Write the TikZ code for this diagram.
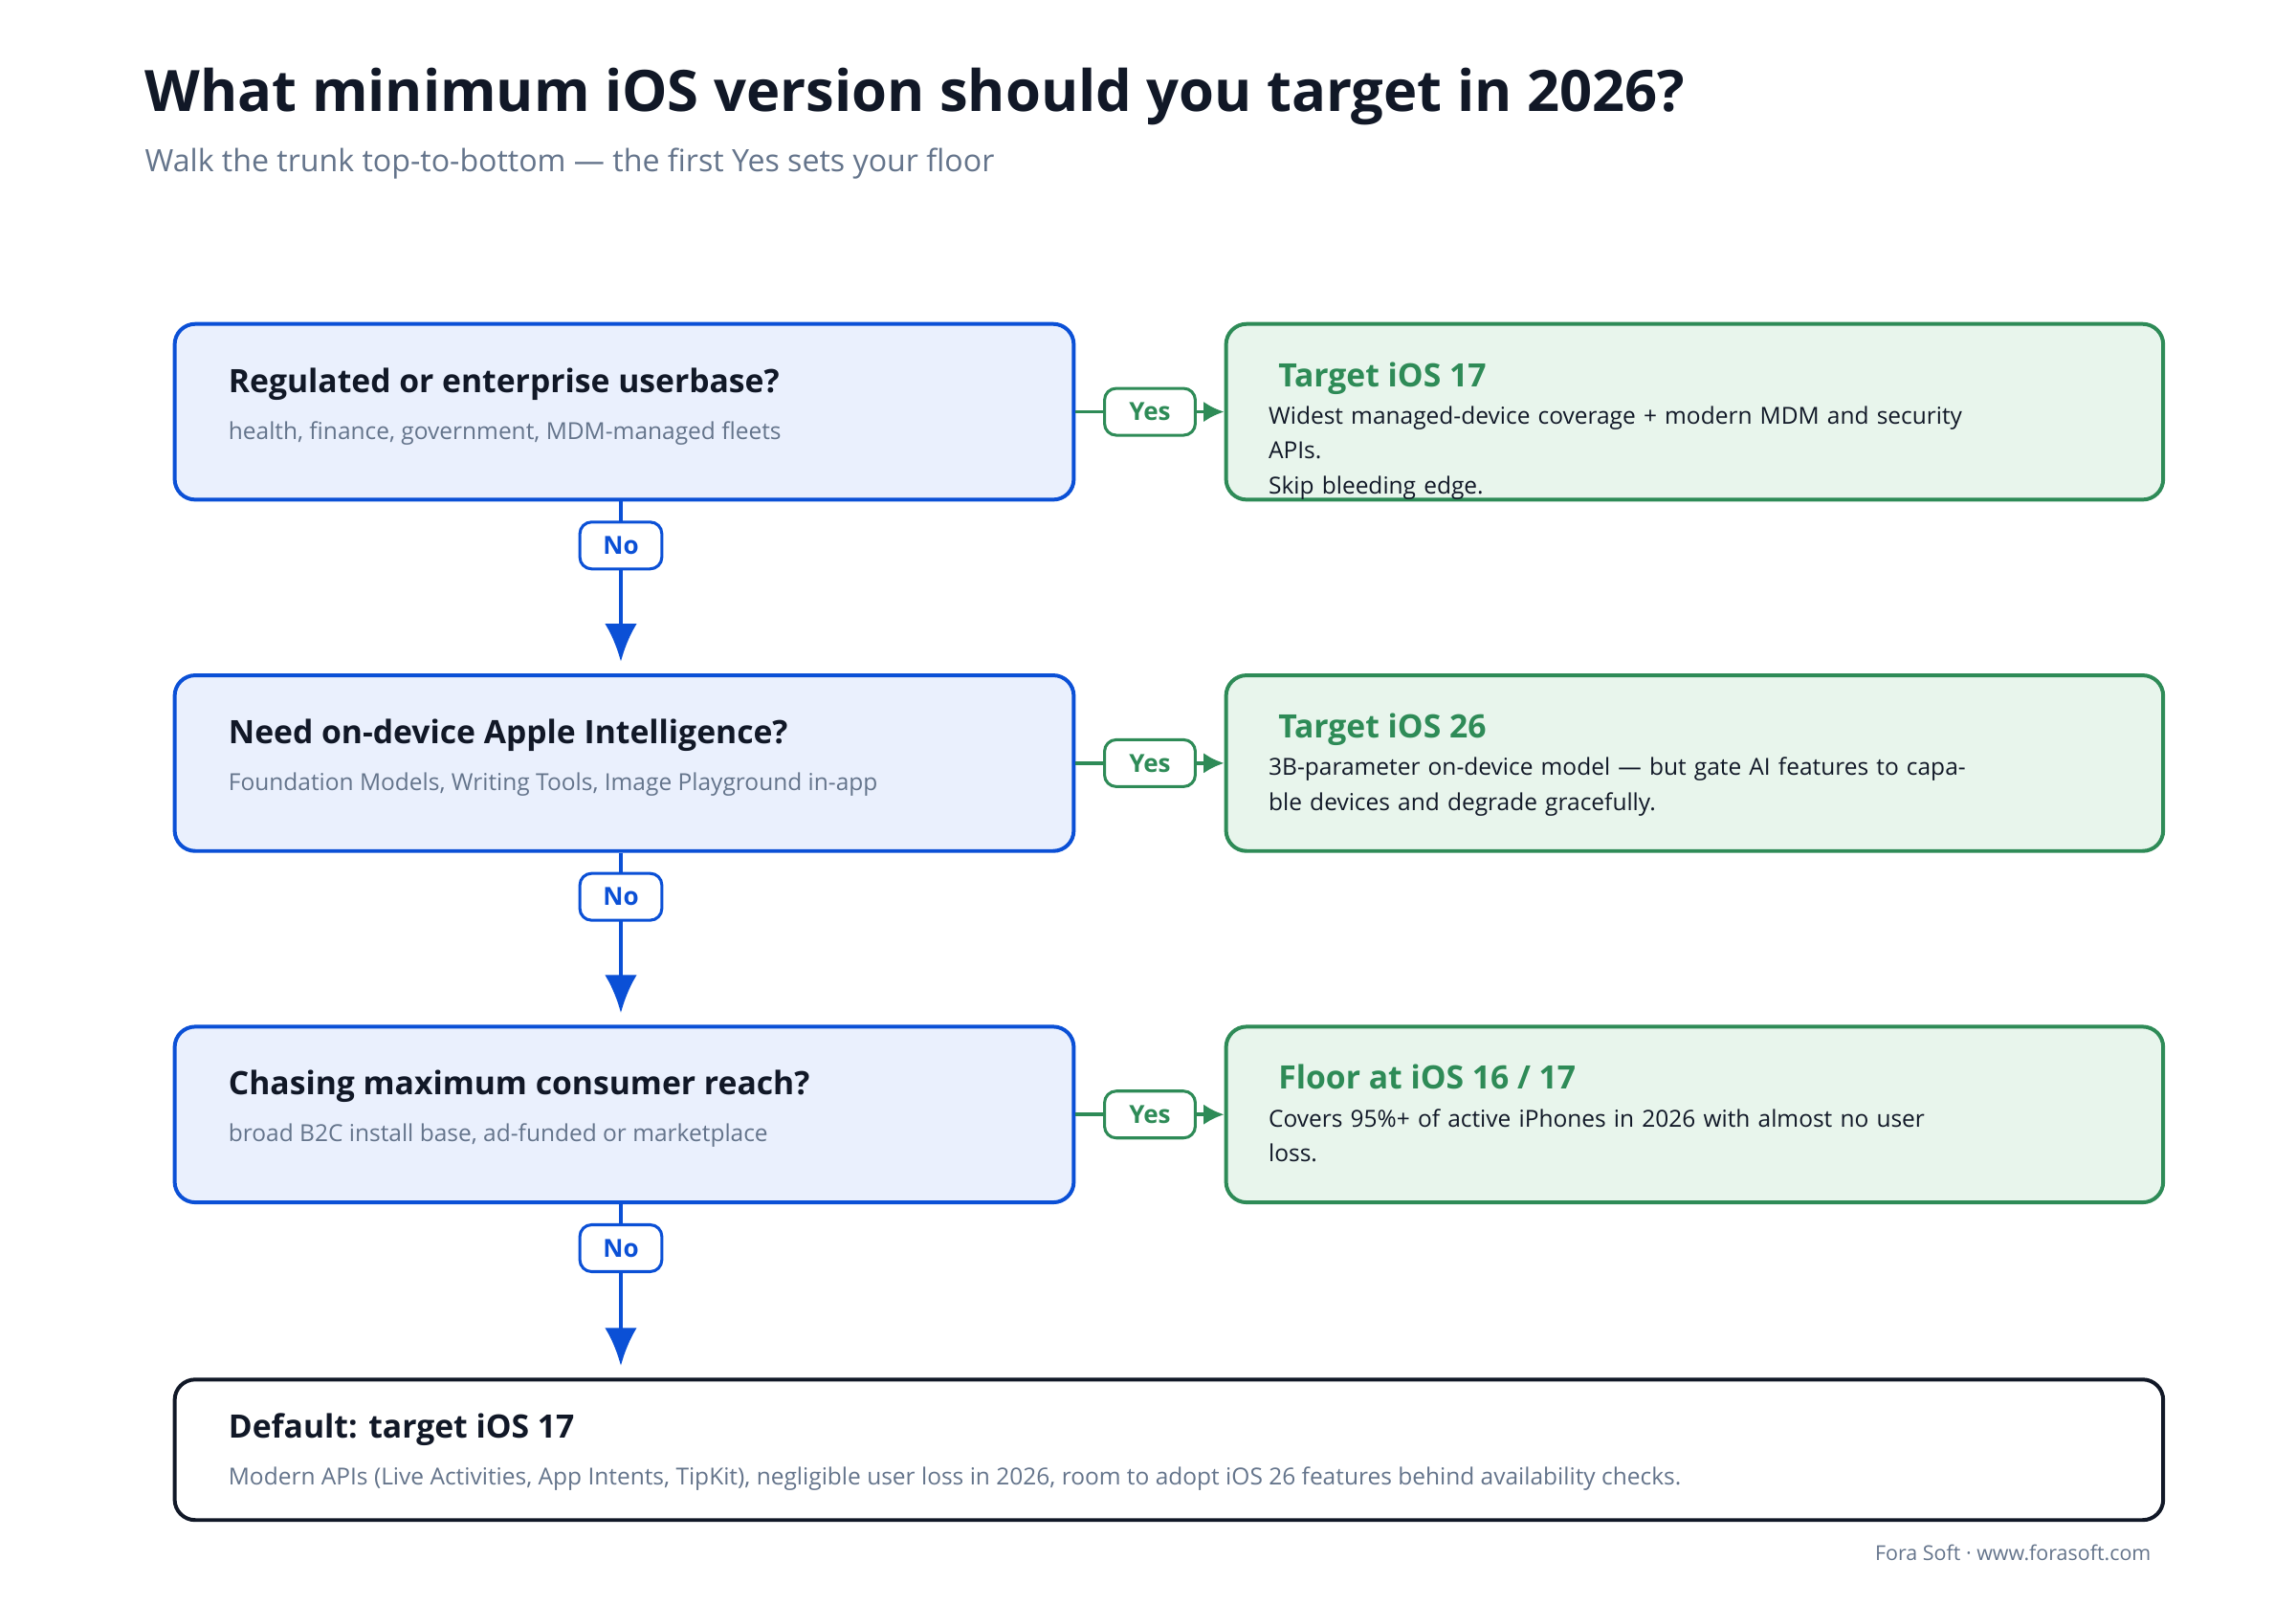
\documentclass[tikz,border=0pt]{standalone}
\usepackage{fontspec}
\setmainfont{Open Sans}
\usetikzlibrary{arrows.meta,calc}
\definecolor{bl}{HTML}{0B50D6}
\definecolor{blf}{HTML}{EAF0FD}
\definecolor{gr}{HTML}{2E8B57}
\definecolor{grf}{HTML}{E8F5EC}
\definecolor{dk}{HTML}{111827}
\definecolor{gy}{HTML}{64748B}
\begin{document}
\begin{tikzpicture}[x=0.5pt,y=-0.5pt,
 q/.style={draw=bl,fill=blf,line width=1.3pt,rounded corners=7pt,minimum width=307pt,minimum height=60pt,anchor=north west},
 ans/.style={draw=gr,fill=grf,line width=1.3pt,rounded corners=7pt,minimum width=320pt,minimum height=60pt,anchor=north west},
 qt/.style={anchor=base west,text=dk,font=\fontsize{11}{13}\selectfont\bfseries},
 qs/.style={anchor=base west,text=gy,font=\fontsize{8}{10}\selectfont},
 att/.style={anchor=base west,text=gr,font=\fontsize{11}{13}\selectfont\bfseries},
 ab/.style={anchor=north west,text=dk,font=\fontsize{8}{12}\selectfont,align=left,text width=245pt,inner sep=0pt},
 yes/.style={draw=gr,fill=white,line width=1pt,rounded corners=4pt,text=gr,font=\fontsize{8.5}{10}\selectfont\bfseries,minimum width=31pt,minimum height=16pt,inner sep=0pt},
 no/.style={draw=bl,fill=white,line width=1pt,rounded corners=4pt,text=bl,font=\fontsize{8.5}{10}\selectfont\bfseries,minimum width=28pt,minimum height=16pt,inner sep=0pt},
 ya/.style={draw=gr,line width=1.2pt,-{Latex[length=7pt,width=7pt]}},
 na/.style={draw=bl,line width=1.5pt,-{Latex[length=13pt,width=11pt]}}]
\useasboundingbox[fill=white] (0,0) rectangle (1568,1095);
\node[anchor=base west,text=dk,font=\fontsize{19.5}{22}\selectfont\bfseries] (title) at (92,76) {What minimum iOS version should you target in 2026?};
\node[anchor=base west,text=gy,font=\fontsize{10.5}{13}\selectfont] (sub) at (92,117) {Walk the trunk top-to-bottom — the first Yes sets your floor};

\foreach \n/\y/\t/\s in {1/220/Regulated or enterprise userbase?/{health, finance, government, MDM-managed fleets},
 2/460/Need on-device Apple Intelligence?/{Foundation Models, Writing Tools, Image Playground in-app},
 3/700/Chasing maximum consumer reach?/{broad B2C install base, ad-funded or marketplace}}{
 \node[q] (q\n) at (118,\y) {};
 \node[qt] (qt\n) at (149,\y+48) {\t};
 \node[qs] (qs\n) at (149,\y+80) {\s};
 \node[ans] (a\n) at (836,\y) {};
}
\node[att] (t1) at (866,264) {Target iOS 17};
\node[ab] (b1) at (866,277) {Widest managed-device coverage + modern MDM and security APIs.\\Skip bleeding edge.};
\node[att] (t2) at (866,504) {Target iOS 26};
\node[ab] (b2) at (866,517) {3B-parameter on-device model — but gate AI features to capable devices and degrade gracefully.};
\node[att] (t3) at (866,744) {Floor at iOS 16 / 17};
\node[ab] (b3) at (866,757) {Covers 95\%+ of active iPhones in 2026 with almost no user\\loss.};

\node[draw=dk,fill=white,line width=1.3pt,rounded corners=7pt,minimum width=679pt,minimum height=48pt,anchor=north west] (d) at (118,941) {};
\node[qt] (dt) at (149,982) {Default: target iOS 17};
\node[qs] (ds) at (149,1014) {Modern APIs (Live Activities, App Intents, TipKit), negligible user loss in 2026, room to adopt iOS 26 features behind availability checks.};
\node[anchor=base east,text=gy,font=\fontsize{7}{9}\selectfont] (foot) at (1476,1066) {Fora Soft · www.forasoft.com};

\foreach \i in {1,2,3}{
 \draw[ya] (q\i.east) -- (a\i.west);
 \node[yes] (y\i) at ($(q\i.east)!0.5!(a\i.west)$) {Yes};
}
\coordinate (c1) at (424,452);
\coordinate (c2) at (424,692);
\coordinate (c3) at (424,933);
\foreach \i in {1,2,3}{
 \draw[na] (q\i.south -| c\i) -- (c\i);
 \node[no] (n\i) at ($(q\i.south -| c\i)+(0,30)$) {No};
}
\end{tikzpicture}
\end{document}
